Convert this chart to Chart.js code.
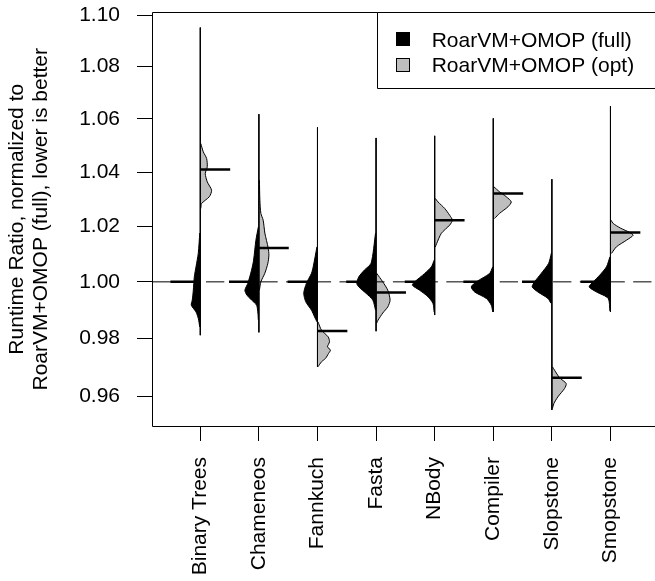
<!DOCTYPE html>
<html><head><meta charset="utf-8">
<script src="https://cdn.jsdelivr.net/npm/chart.js@4"></script>
<style>html,body{margin:0;padding:0;background:#fff;overflow:hidden}canvas{display:block}</style>
</head><body>
<canvas id="c" width="655" height="581"></canvas>
<script>
const categories = ['Binary Trees','Chameneos','Fannkuch','Fasta','NBody','Compiler','Slopstone','Smopstone'];
const seriesNames = ['RoarVM+OMOP (full)','RoarVM+OMOP (opt)'];
const yTicks = [0.96,0.98,1.00,1.02,1.04,1.06,1.08,1.10];
const yTitle = ['Runtime Ratio, normalized to','RoarVM+OMOP (full), lower is better'];

const fullMean = [1,1,1,1,1,1,1,1];
const optMean = [1.0410,1.0122,0.9826,0.9962,1.0223,1.0321,0.9663,1.0178];
const rangeMin = [0.9811,0.9821,0.9701,0.9825,0.9882,0.9893,0.9552,0.9893];
const rangeMax = [1.0952,1.0618,1.0568,1.0528,1.0536,1.0602,1.0374,1.0648];

// density outlines (value, half-width in category units)
const fullY = [
  [1.0176,1.0103,1.0054,1.0018,0.9970,0.9935,0.9917,0.9893,0.9870,0.9840],
  [1.0198,1.0150,1.0078,1.0042,0.9995,0.9970,0.9953,0.9935,0.9917,0.9889,0.9864],
  [1.0126,1.0054,1.0031,0.9995,0.9960,0.9929,0.9899,0.9876,0.9858],
  [1.0176,1.0067,1.0042,1.0018,0.9994,0.9982,0.9959,0.9935,0.9899],
  [1.0078,1.0054,1.0030,1.0000,0.9988,0.9970,0.9947,0.9923,0.9892],
  [1.0054,1.0030,1.0000,0.9982,0.9964,0.9941,0.9917,0.9893],
  [1.0103,1.0066,1.0030,1.0000,0.9982,0.9964,0.9941,0.9924],
  [1.0090,1.0054,1.0024,1.0000,0.9982,0.9964,0.9941,0.9896]
];
const fullW = [
  [0.009,0.034,0.073,0.102,0.119,0.137,0.154,0.073,0.034,0.009],
  [0.009,0.051,0.090,0.125,0.188,0.239,0.205,0.125,0.039,0.017,0.009],
  [0.009,0.073,0.102,0.188,0.234,0.200,0.102,0.051,0.009],
  [0.009,0.085,0.200,0.295,0.329,0.295,0.171,0.056,0.009],
  [0.009,0.056,0.171,0.341,0.381,0.256,0.114,0.029,0.009],
  [0.009,0.063,0.290,0.375,0.319,0.119,0.034,0.009],
  [0.009,0.056,0.183,0.295,0.336,0.239,0.068,0.017],
  [0.009,0.068,0.183,0.295,0.363,0.239,0.039,0.009]
];
const optY = [
  [1.0507,1.0476,1.0451,1.0420,1.0395,1.0364,1.0333,1.0309,1.0284,1.0266],
  [1.0370,1.0296,1.0248,1.0223,1.0176,1.0122,1.0096,1.0067,1.0031,1.0000,0.9970],
  [0.9858,0.9829,0.9805,0.9788,0.9770,0.9759,0.9747,0.9730,0.9718,0.9701],
  [1.0031,1.0000,0.9970,0.9935,0.9911,0.9889,0.9864,0.9853],
  [1.0303,1.0290,1.0266,1.0241,1.0223,1.0205,1.0175,1.0138,1.0125],
  [1.0346,1.0327,1.0309,1.0290,1.0272,1.0248,1.0229],
  [0.9701,0.9689,0.9663,0.9643,0.9626,0.9597,0.9574,0.9557],
  [1.0223,1.0211,1.0194,1.0178,1.0168,1.0150,1.0126,1.0102]
];
const optW = [
  [0.009,0.051,0.108,0.119,0.085,0.119,0.193,0.154,0.022,0.009],
  [0.009,0.017,0.034,0.073,0.102,0.159,0.171,0.154,0.102,0.034,0.009],
  [0.009,0.068,0.183,0.205,0.171,0.222,0.188,0.137,0.068,0.009],
  [0.009,0.114,0.200,0.239,0.200,0.114,0.034,0.009],
  [0.009,0.056,0.171,0.256,0.302,0.256,0.114,0.034,0.009],
  [0.009,0.108,0.222,0.307,0.251,0.108,0.022],
  [0.009,0.046,0.131,0.244,0.217,0.102,0.034,0.009],
  [0.009,0.046,0.171,0.329,0.387,0.273,0.102,0.017]
];

const X_MIN = 0.176, X_MAX = 8.76, Y_MIN = 0.94976, Y_MAX = 1.1011;
const MEAN_LEN = 0.51;
const FONT = {family: '"Liberation Sans", Arial, sans-serif', size: 21};
const GRAY = '#bebebe';

const datasets = [];
categories.forEach((name, i) => {
  const c = i + 1;
  datasets.push({
    data: fullY[i].map((y, k) => ({x: c - fullW[i][k], y})),
    fill: {value: c}, backgroundColor: '#000', borderColor: '#000', borderWidth: 1,
    pointRadius: 0, tension: 0.25, order: 5
  });
  datasets.push({
    data: optY[i].map((y, k) => ({x: c + optW[i][k], y})),
    fill: {value: c}, backgroundColor: GRAY, borderColor: '#000', borderWidth: 1,
    pointRadius: 0, tension: 0.25, order: 4
  });
  datasets.push({
    data: [{x: c, y: rangeMax[i]}, {x: c, y: rangeMin[i]}],
    fill: false, borderColor: '#000', borderWidth: 1, pointRadius: 0, order: 3
  });
  datasets.push({
    data: [{x: c - MEAN_LEN, y: fullMean[i]}, {x: c, y: fullMean[i]}],
    fill: false, borderColor: '#000', borderWidth: 2.5, pointRadius: 0, order: 1
  });
  datasets.push({
    data: [{x: c, y: optMean[i]}, {x: c + MEAN_LEN, y: optMean[i]}],
    fill: false, borderColor: '#000', borderWidth: 2.5, pointRadius: 0, order: 1
  });
});
datasets.push({
  data: [{x: X_MIN, y: 1}, {x: X_MAX, y: 1}],
  fill: false, borderColor: '#000', borderWidth: 1, borderDash: [18.3, 8.4], borderDashOffset: 26.1,
  pointRadius: 0, order: 2
});

const framePlugin = {
  id: 'frame',
  afterDraw(chart) {
    const {ctx, chartArea: a} = chart;
    ctx.save();
    ctx.strokeStyle = '#000';
    ctx.lineWidth = 1;
    ctx.beginPath();
    ctx.moveTo(a.right + 10, a.top);
    ctx.lineTo(a.left + 0.5, a.top);
    ctx.lineTo(a.left + 0.5, a.bottom + 0.5);
    ctx.lineTo(a.right + 10, a.bottom + 0.5);
    ctx.stroke();
    // legend
    const lx = 377.5, ly = a.top, lh = 76;
    ctx.fillStyle = '#fff';
    ctx.fillRect(lx, ly, 300, lh);
    ctx.beginPath();
    ctx.moveTo(a.right + 10, ly);
    ctx.lineTo(lx, ly);
    ctx.lineTo(lx, ly + lh);
    ctx.lineTo(a.right + 10, ly + lh);
    ctx.stroke();
    ctx.fillStyle = '#000';
    ctx.fillRect(396, 32, 14, 14);
    ctx.fillStyle = GRAY;
    ctx.fillRect(396, 58, 14, 14);
    ctx.strokeRect(396.5, 58.5, 13, 13);
    ctx.fillStyle = '#000';
    ctx.font = '21px ' + FONT.family;
    ctx.textBaseline = 'alphabetic';
    ctx.textAlign = 'left';
    ctx.fillText(seriesNames[0], 431.7, 46.7);
    ctx.fillText(seriesNames[1], 431.7, 72);
    ctx.restore();
  }
};

new Chart(document.getElementById('c'), {
  type: 'line',
  data: {datasets},
  options: {
    indexAxis: 'y',
    responsive: false,
    animation: false,
    devicePixelRatio: 1,
    layout: {padding: {top: 12.5, left: 0, right: 0, bottom: 0}},
    plugins: {legend: {display: false}, tooltip: {enabled: false}},
    scales: {
      x: {
        type: 'linear', position: 'bottom', min: X_MIN, max: X_MAX,
        afterBuildTicks: s => { s.ticks = categories.map((_, i) => ({value: i + 1})); },
        afterFit: s => { s.height = 155; s.paddingLeft = 0; s.paddingRight = 0; s.paddingTop = 0; s.paddingBottom = 0; },
        grid: {display: true, drawOnChartArea: false, drawTicks: true, tickLength: 15, color: '#000', lineWidth: 1},
        border: {display: false},
        ticks: {autoSkip: false, minRotation: 90, maxRotation: 90, padding: 16, color: '#000', font: FONT,
          callback: v => categories[Math.round(v) - 1]}
      },
      y: {
        type: 'logarithmic', position: 'left', min: Y_MIN, max: Y_MAX, bounds: 'data',
        afterBuildTicks: s => { s.ticks = yTicks.map(v => ({value: v})); },
        afterFit: s => { s.width = 152; s.paddingTop = 0; s.paddingBottom = 0; s.paddingLeft = 0; s.paddingRight = 0; },
        grid: {display: true, drawOnChartArea: false, drawTicks: true, tickLength: 15, color: '#000', lineWidth: 1},
        border: {display: false},
        ticks: {autoSkip: false, padding: 17, color: '#000', font: FONT, callback: v => Number(v).toFixed(2)},
        title: {display: true, text: yTitle, color: '#000', font: {family: FONT.family, size: 21, lineHeight: 1.15}, padding: {top: 5, bottom: 0}}
      }
    }
  },
  plugins: [framePlugin]
});
</script>
</body></html>
